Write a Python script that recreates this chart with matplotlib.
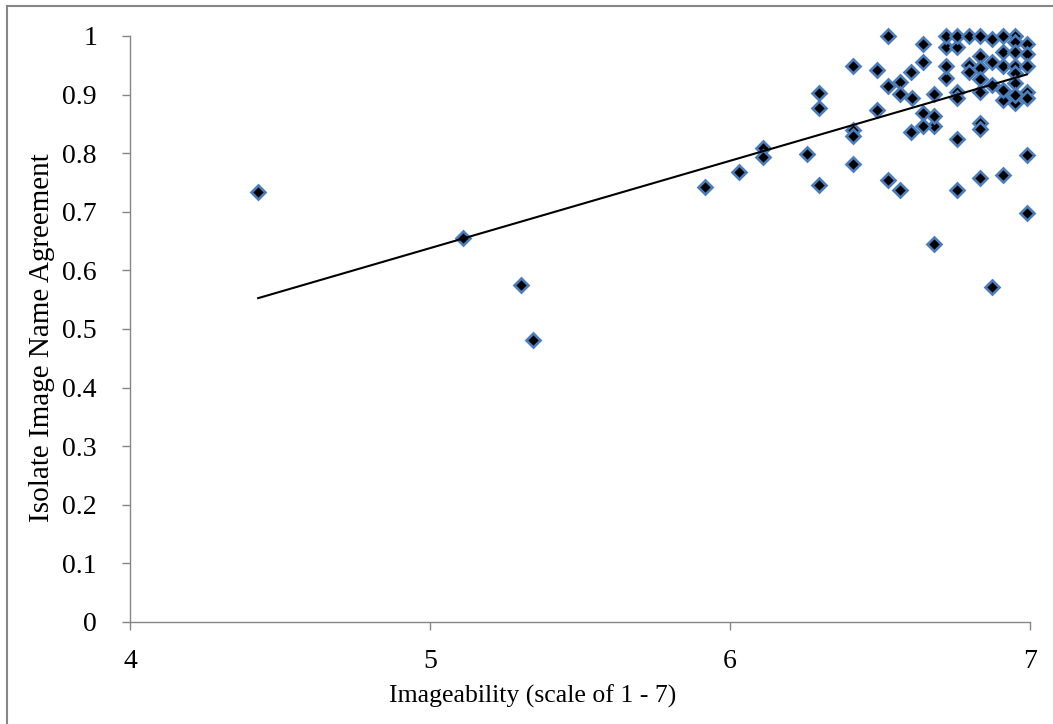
"""
Scatter of isolate image name agreement vs imageability, with a linear
trendline, in the look of an Excel 2007 chart.
"""

import matplotlib

matplotlib.use("Agg")
import matplotlib.pyplot as plt
import numpy as np
from matplotlib.lines import Line2D


# data
# partly hidden points come first so the others sit on top of them
imageability = [
    6.109, 6.411, 6.68, 6.719, 6.719, 6.756, 6.756, 6.797, 6.834, 6.911, 6.95, 6.95, 6.989,
    4.427, 5.11, 5.303, 5.343, 5.917, 6.031, 6.109, 6.255,
    6.297, 6.297, 6.297, 6.411, 6.411, 6.411, 6.489, 6.489,
    6.526, 6.526, 6.526, 6.565, 6.565, 6.565, 6.603, 6.606, 6.603,
    6.644, 6.644, 6.644, 6.644, 6.68, 6.68, 6.68,
    6.719, 6.719, 6.756, 6.756, 6.756, 6.756,
    6.797, 6.797, 6.834, 6.834, 6.834, 6.834, 6.834, 6.834, 6.834,
    6.874, 6.874, 6.874, 6.872,
    6.911, 6.911, 6.911, 6.911, 6.911,
    6.95, 6.95, 6.95, 6.95, 6.95, 6.95,
    6.989, 6.989, 6.989, 6.989, 6.989, 6.989,
]
name_agreement = [
    0.809, 0.840, 0.847, 0.982, 0.928, 0.982, 0.905, 0.950, 0.852, 0.890, 1.000, 0.885, 0.905,
    0.733, 0.655, 0.575, 0.481, 0.742, 0.768, 0.794, 0.798,
    0.903, 0.877, 0.746, 0.948, 0.829, 0.781, 0.942, 0.874,
    1.000, 0.914, 0.755, 0.922, 0.901, 0.737, 0.939, 0.895, 0.837,
    0.986, 0.955, 0.869, 0.846, 0.901, 0.863, 0.645,
    1.000, 0.948, 1.000, 0.895, 0.824, 0.737,
    1.000, 0.939, 1.000, 0.965, 0.946, 0.926, 0.905, 0.842, 0.758,
    0.994, 0.955, 0.916, 0.572,
    1.000, 0.973, 0.948, 0.908, 0.763,
    0.990, 0.972, 0.948, 0.936, 0.920, 0.899,
    0.986, 0.969, 0.948, 0.895, 0.797, 0.698,
]

# linear trendline as shown on the chart
trend_slope = 0.149
trend_intercept = -0.107

x_ticks = [4, 5, 6, 7]
y_ticks = [0, 0.1, 0.2, 0.3, 0.4, 0.5, 0.6, 0.7, 0.8, 0.9, 1]
y_tick_labels = ["0", "0.1", "0.2", "0.3", "0.4", "0.5", "0.6", "0.7", "0.8", "0.9", "1"]

# styling
GREY = "#868686"
MARKER_EDGE = "#4a7dba"
FONT = "Liberation Serif"


def main() -> None:
    plt.rcParams["font.family"] = FONT

    fig = plt.figure(figsize=(10.53, 7.24), dpi=100)
    ax = fig.add_axes([0.1235, 0.1409, 0.8547, 0.8094])

    x = np.array(imageability)
    y = np.array(name_agreement)

    ax.plot(
        x, y, linestyle="none", marker="D", markersize=6.8,
        markerfacecolor="black", markeredgecolor=MARKER_EDGE,
        markeredgewidth=1.9, clip_on=False, zorder=3,
    )

    # trendline over the range of the data
    tx = np.array([x.min(), x.max()])
    ax.plot(tx, trend_intercept + trend_slope * tx, color="black",
            linewidth=1.5, zorder=4, clip_on=False)

    ax.set_xlim(4, 7)
    ax.set_ylim(0, 1)
    ax.set_xticks(x_ticks)
    ax.set_yticks(y_ticks)
    ax.set_yticklabels(y_tick_labels)

    for side in ("top", "right"):
        ax.spines[side].set_visible(False)
    for side in ("left", "bottom"):
        ax.spines[side].set_color(GREY)
        ax.spines[side].set_linewidth(1.0)

    ax.tick_params(axis="both", direction="out", length=5.8, width=1.0,
                   color=GREY, labelcolor="black")
    ax.tick_params(axis="y", pad=18, labelsize=20)
    ax.tick_params(axis="x", pad=14, labelsize=20)

    ax.set_xlabel("Imageability (scale of 1 - 7)", fontsize=18.5)
    ax.set_ylabel("Isolate Image Name Agreement", fontsize=21)
    ax.xaxis.label.set_va("baseline")
    ax.xaxis.set_label_coords(0.447, -0.138)
    ax.yaxis.set_label_coords(-0.083, 0.486)

    # chart area border (left and top edges show in the crop)
    fig.add_artist(Line2D([0.0071, 0.0071], [0.0, 0.9924], transform=fig.transFigure,
                          color=GREY, linewidth=1.5))
    fig.add_artist(Line2D([0.0071, 1.0], [0.9924, 0.9924], transform=fig.transFigure,
                          color=GREY, linewidth=1.5))

    fig.savefig("out.png", dpi=100)
    plt.close(fig)


if __name__ == "__main__":
    main()
